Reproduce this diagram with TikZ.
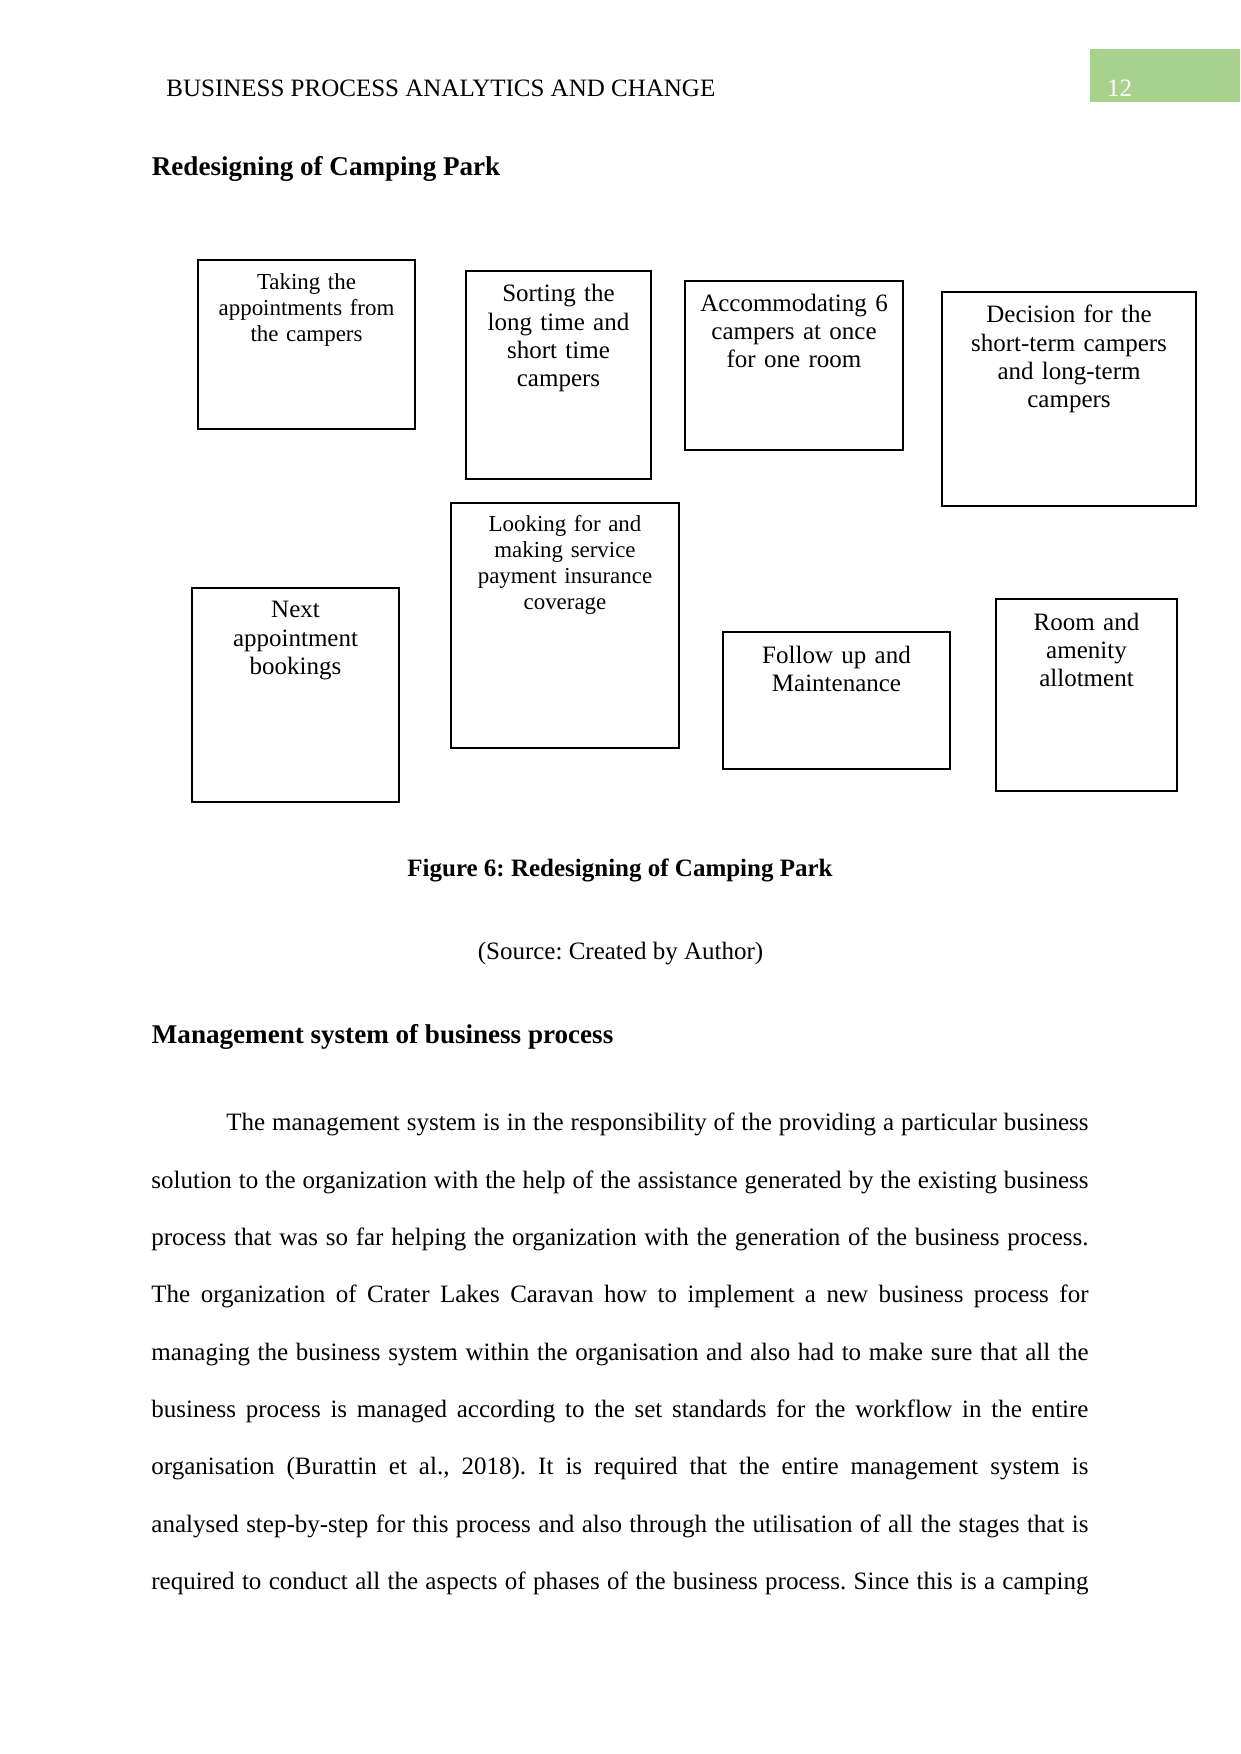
\documentclass[tikz,border=0pt]{standalone}
\usepackage{fontspec}
\setmainfont{Liberation Serif}
\definecolor{pagegreen}{HTML}{A9D18E}
\frenchspacing
\begin{document}
\frenchspacing
\begin{tikzpicture}[x=0.48pt,y=-0.48pt,
  procbox/.style={draw=black, line width=1pt, inner sep=0pt},
  boxtext/.style={inner sep=0pt, align=center, anchor=base, text width=#1},
  big/.style={font=\fontsize{12}{13.6}\selectfont},
  small/.style={font=\fontsize{11}{12.5}\selectfont},
  plain/.style={inner sep=0pt, font=\fontsize{12}{14}\selectfont},
  bold/.style={inner sep=0pt, font=\fontsize{12}{14}\selectfont\bfseries},
  heading/.style={inner sep=0pt, font=\fontsize{13}{15}\selectfont\bfseries},
  parline/.style={inner sep=0pt, anchor=base west, font=\fontsize{12}{14}\selectfont}]
\useasboundingbox[fill=white] (0,0) rectangle (1241,1754);

% header
\node[plain, anchor=base west] (head) at (166,96) {BUSINESS PROCESS ANALYTICS AND CHANGE};
\node[fill=pagegreen, inner sep=0pt, minimum width=72pt, minimum height=25.6pt, anchor=north west] (pgbox) at (1090,48.3) {};
\node[plain, anchor=base west, text=white] (pgnum) at (1106.7,96) {12};

% title
\node[heading, anchor=base west] (title) at (151.5,175) {Redesigning of Camping Park};

% boxes
\node[procbox, minimum width=104.16pt, minimum height=81.12pt] (b1) at (306.5,344.5) {};
\node[procbox, minimum width=88.8pt, minimum height=99.84pt] (b2) at (558.5,375) {};
\node[procbox, minimum width=104.64pt, minimum height=81.12pt] (b3) at (794,365.5) {};
\node[procbox, minimum width=121.92pt, minimum height=102.72pt] (b4) at (1069,399) {};
\node[procbox, minimum width=109.44pt, minimum height=117.6pt] (b5) at (565,625.5) {};
\node[procbox, minimum width=99.36pt, minimum height=102.72pt] (b6) at (295.5,695) {};
\node[procbox, minimum width=108.96pt, minimum height=65.76pt] (b7) at (836.5,700.5) {};
\node[procbox, minimum width=86.88pt, minimum height=92.16pt] (b8) at (1086.5,695) {};

\node[boxtext=100pt, small] (t1) at (306.5,289.3) {Taking the\\appointments from\\the campers};
\node[boxtext=85pt, big] (t2) at (558.5,301.7) {Sorting the\\long time and\\short time\\campers};
\node[boxtext=100pt, big] (t3) at (794,311) {Accommodating 6\\campers at once\\for one room};
\node[boxtext=118pt, big] (t4) at (1069,322.7) {Decision for the\\short-term campers\\and long-term\\campers};
\node[boxtext=105pt, small] (t5) at (565,531.7) {Looking for and\\making service\\payment insurance\\coverage};
\node[boxtext=95pt, big] (t6) at (295.5,617.7) {Next\\appointment\\bookings};
\node[boxtext=105pt, big] (t7) at (836.5,663.3) {Follow up and\\Maintenance};
\node[boxtext=83pt, big] (t8) at (1086.5,630) {Room and\\amenity\\allotment};

% caption
\node[bold, anchor=base] (cap) at (620,876) {Figure 6: Redesigning of Camping Park};
\node[plain, anchor=base] (src) at (620.5,959) {(Source: Created by Author)};

% section heading
\node[heading, anchor=base west] (sec) at (151.5,1043) {Management system of business process};

% paragraph
\node[parline] (p1) at (226,1130.7) {\makebox[413.8pt][s]{The management system is in the responsibility of the providing a particular business}};
\node[parline] (p2) at (151,1188) {\makebox[449.8pt][s]{solution to the organization with the help of the assistance generated by the existing business}};
\node[parline] (p3) at (151,1245.4) {\makebox[449.8pt][s]{process that was so far helping the organization with the generation of the business process.}};
\node[parline] (p4) at (151,1302.7) {\makebox[449.8pt][s]{The organization of Crater Lakes Caravan how to implement a new business process for}};
\node[parline] (p5) at (151,1360) {\makebox[449.8pt][s]{managing the business system within the organisation and also had to make sure that all the}};
\node[parline] (p6) at (151,1417.4) {\makebox[449.8pt][s]{business process is managed according to the set standards for the workflow in the entire}};
\node[parline] (p7) at (151,1474.7) {\makebox[449.8pt][s]{organisation (Burattin et al., 2018). It is required that the entire management system is}};
\node[parline] (p8) at (151,1532) {\makebox[449.8pt][s]{analysed step-by-step for this process and also through the utilisation of all the stages that is}};
\node[parline] (p9) at (151,1589.3) {\makebox[449.8pt][s]{required to conduct all the aspects of phases of the business process. Since this is a camping}};
\end{tikzpicture}
\end{document}
